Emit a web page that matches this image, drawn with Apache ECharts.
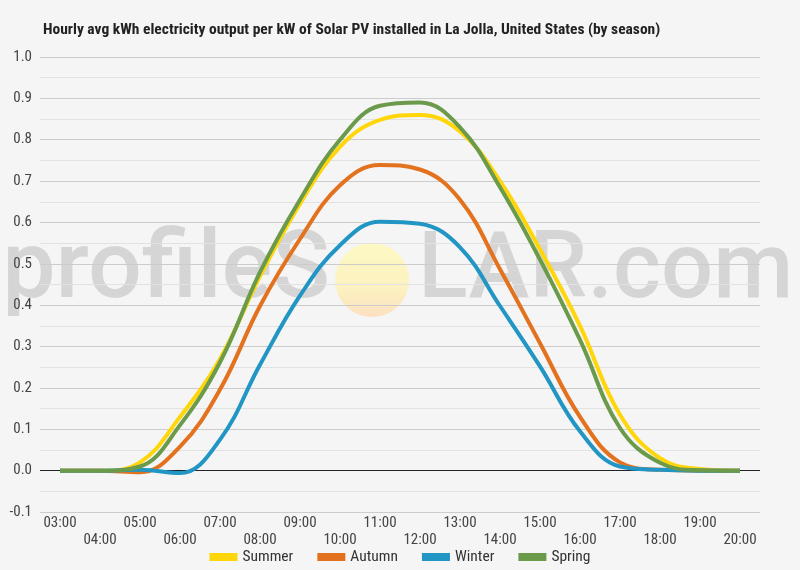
<!DOCTYPE html>
<html>
<head>
<meta charset="utf-8">
<script src="https://cdn.jsdelivr.net/npm/echarts@6/dist/echarts.min.js"></script>
<style>
  html, body { margin: 0; padding: 0; background: #f5f5f5; }
  #chart { width: 800px; height: 570px; }
</style>
</head>
<body>
<div id="chart"></div>
<script>
// hours of the day
var hours = ['03:00', '04:00', '05:00', '06:00', '07:00', '08:00', '09:00', '10:00', '11:00',
  '12:00', '13:00', '14:00', '15:00', '16:00', '17:00', '18:00', '19:00', '20:00']

// kWh per kW
var summer = [0, 0, 0.02, 0.13, 0.27, 0.47, 0.645, 0.783, 0.848, 0.86, 0.82, 0.70, 0.535, 0.35, 0.135, 0.03, 0.004, 0]
var autumn = [0, 0, -0.004, 0.058, 0.196, 0.398, 0.56, 0.69, 0.739, 0.728, 0.655, 0.487, 0.308, 0.13, 0.02, 0.002, 0, 0]
var winter = [0, 0, 0.002, -0.006, 0.075, 0.256, 0.423, 0.545, 0.602, 0.597, 0.54, 0.398, 0.252, 0.095, 0.01, 0.002, 0, 0]
var spring = [0, 0, 0.01, 0.11, 0.262, 0.48, 0.655, 0.80, 0.882, 0.89, 0.83, 0.685, 0.51, 0.316, 0.103, 0.019, 0.001, 0]

var font = "'Roboto Condensed', 'Liberation Sans Narrow', 'Roboto', sans-serif"

function line(name, data, color) {
  return {
    name: name,
    type: 'line',
    data: data,
    smooth: 0.4,
    symbol: 'none',
    lineStyle: { color: color, width: 4 },
    itemStyle: { color: color },
    z: 3
  }
}

var dom = echarts.init(document.getElementById('chart'))

var seriesList = [
  line('Summer', summer, '#ffd60a'),
  line('Autumn', autumn, '#e3721e'),
  line('Winter', winter, '#2196c4'),
  line('Spring', spring, '#6b9a4b')
]
// black zero line
seriesList[0].markLine = {
  silent: true,
  symbol: 'none',
  label: { show: false },
  lineStyle: { color: '#222', width: 1.2, type: 'solid' },
  data: [{ yAxis: 0 }],
  z: 1
}

dom.setOption({
  backgroundColor: '#f5f5f5',
  animation: false,
  textStyle: { fontFamily: font },
  title: {
    text: 'Hourly avg kWh electricity output per kW of Solar PV installed in La Jolla, United States (by season)',
    left: 38,
    top: 17,
    textStyle: { fontFamily: font, fontSize: 15.5, fontWeight: 'bold', color: '#222' }
  },
  graphic: [
    {
      type: 'text',
      right: 470, top: 226, z: 0,
      style: { text: 'profileS', font: '500 95px Roboto, sans-serif', fill: 'rgba(0,0,0,0.13)' }
    },
    {
      type: 'circle',
      shape: { cx: 372, cy: 280, r: 37 }, z: 0,
      style: {
        fill: new echarts.graphic.LinearGradient(0, 0, 0, 1, [
          { offset: 0, color: 'rgba(255,250,180,0.75)' },
          { offset: 0.6, color: 'rgba(255,240,170,0.7)' },
          { offset: 1, color: 'rgba(255,215,170,0.7)' }
        ])
      }
    },
    {
      type: 'text',
      left: 418, top: 228, z: 0,
      style: { text: 'LAR.com', font: '500 92px Roboto, sans-serif', fill: 'rgba(0,0,0,0.13)' }
    }
  ],
  legend: {
    bottom: 0,
    left: 'center',
    itemWidth: 28,
    itemHeight: 8,
    itemGap: 24,
    icon: 'rect',
    textStyle: { fontFamily: font, fontSize: 15.5, color: '#333' },
    data: ['Summer', 'Autumn', 'Winter', 'Spring']
  },
  grid: { left: 40, right: 40, top: 57, bottom: 58 },
  xAxis: {
    type: 'category',
    data: hours,
    boundaryGap: true,
    axisLine: { show: false },
    axisTick: { show: false },
    axisLabel: {
      interval: 0,
      margin: 3,
      fontSize: 15,
      lineHeight: 17,
      color: '#444',
      fontFamily: font,
      formatter: function (v, i) { return i % 2 ? '\n' + v : v }
    }
  },
  yAxis: {
    type: 'value',
    min: -0.1,
    max: 1.0,
    interval: 0.1,
    axisLine: { show: false },
    axisTick: { show: false },
    axisLabel: {
      fontSize: 15,
      color: '#444',
      fontFamily: font,
      margin: 8,
      formatter: function (v) { return v.toFixed(1) }
    },
    splitLine: { lineStyle: { color: '#cccccc', width: 1 } },
    minorTick: { show: false, splitNumber: 2 },
    minorSplitLine: { show: true, lineStyle: { color: '#e2e2e2', width: 1 } }
  },
  series: seriesList
})
</script>
</body>
</html>
